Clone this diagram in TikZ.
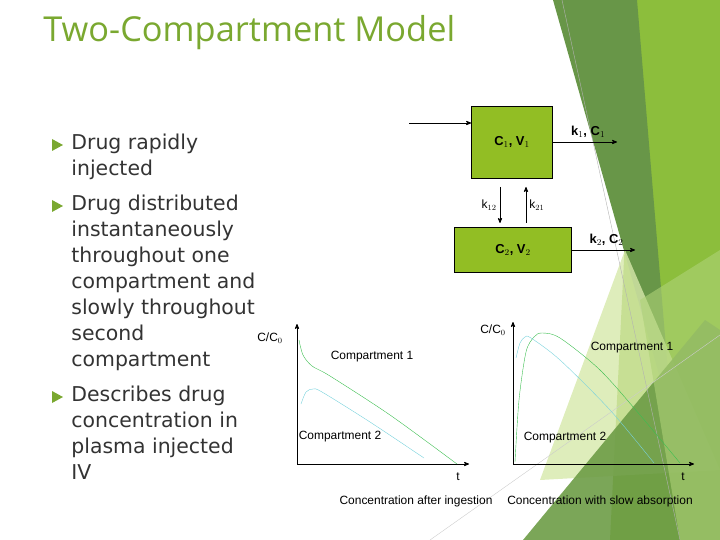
\documentclass[tikz,border=0pt]{standalone}
\usepackage{fontspec}
\setmainfont{DejaVu Sans}
\newfontfamily\titlefont{Open Sans}
\newfontfamily\labfont{Liberation Sans}
\usetikzlibrary{arrows,positioning}
\definecolor{titlegreen}{RGB}{122,168,48}
\definecolor{boxgreen}{RGB}{146,190,36}
\definecolor{darkleaf}{RGB}{104,150,72}
\definecolor{lightleaf}{RGB}{140,190,60}
\definecolor{paleleaf}{RGB}{214,232,170}
\definecolor{curvegreen}{RGB}{60,190,80}
\definecolor{curvecyan}{RGB}{120,210,220}
\tikzstyle{comp} = [rectangle, draw, fill=boxgreen, inner sep=0pt, font=\labfont\bfseries\fontsize{13}{15}\selectfont]
\tikzstyle{lab} = [font=\labfont\fontsize{12}{14}\selectfont, inner sep=1pt]
\tikzstyle{bul} = [anchor=north west, align=left, inner sep=0pt, font=\fontsize{20.5}{26}\selectfont, text=black!80]

\begin{document}
\begin{tikzpicture}[x=1bp,y=-1bp,>=stealth',thick]
  \useasboundingbox (0,0) rectangle (720,540);

  % background leaves
  \fill[lightleaf] (637,0) -- (720,0) -- (720,540) -- (610,540) -- cycle;
  \fill[darkleaf] (553,0) -- (637,0) -- (672,420) -- cycle;
  \fill[paleleaf,opacity=.8] (625,250) -- (540,480) -- (720,470) -- cycle;
  \fill[darkleaf!85!lightleaf,opacity=.9] (523,540) -- (705,320) -- (720,330) -- (720,540) -- cycle;
  \fill[lightleaf!70!white,opacity=.6] (640,300) -- (720,250) -- (720,540) -- (680,540) -- cycle;
  \draw[gray!60,thin] (562,0) -- (680,540);
  \draw[gray!40,thin] (430,540) -- (720,335);

  % title and bullets
  \node[anchor=west, text=titlegreen, font=\titlefont\fontsize{34.5}{36}\selectfont, inner sep=0pt] (title) at (43,33) {Two-Compartment Model};
  \node[bul] (b1) at (71,134) {Drug rapidly\\injected};
  \node[bul] (b2) at (71,195) {Drug distributed\\instantaneously\\throughout one\\compartment and\\slowly throughout\\second\\compartment};
  \node[bul] (b3) at (71,386) {Describes drug\\concentration in\\plasma injected\\IV};
  \foreach \y in {145,206,397}
    \fill[titlegreen] (52,\y-6) -- (63,\y) -- (52,\y+6) -- cycle;

  % compartment scheme
  \node[comp, minimum width=81bp, minimum height=72bp] (c1) at (512,142) {C$_1$, V$_1$};
  \node[comp, minimum width=117bp, minimum height=45bp] (c2) at (513,250) {C$_2$, V$_2$};
  \coordinate (in) at (409,123);
  \coordinate (out1) at (617,142);
  \coordinate (out2) at (635,250);
  \draw[->] (in) -- (in -| c1.west);
  \draw[->] (c1.east) -- (out1) node[lab, font=\labfont\bfseries\fontsize{13}{15}\selectfont, pos=.55, above=3bp] {k$_1$, C$_1$};
  \draw[->] (c2.east) -- (out2) node[lab, font=\labfont\bfseries\fontsize{13}{15}\selectfont, pos=.55, above=3bp] {k$_2$, C$_2$};
  \draw[->] (500,187) -- (500,223) node[lab, midway, left=2bp] {k$_{12}$};
  \draw[->] (526,223) -- (526,187) node[lab, midway, right=2bp] {k$_{21}$};

  % graph after ingestion
  \coordinate (o1) at (297,464);
  \draw[->] (o1) -- (297,324);
  \draw[->] (o1) -- (469,464);
  \node[lab] (cc1) at (270,338) {C/C$_0$};
  \node[lab] (t1) at (458,477) {t};
  \node[lab] (g1a) at (372,357) {Compartment 1};
  \node[lab] (g1b) at (340,437) {Compartment 2};
  \draw[curvegreen,thin] plot[smooth] coordinates {(299,340) (303,355) (312,366) (330,376) (390,415) (457,464)};
  \draw[curvecyan,thin] plot[smooth] coordinates {(301,404) (306,392) (313,389) (322,392) (370,422) (424,458)};
  \node[lab] (cap1) at (416,501) {Concentration after ingestion};

  % graph slow absorption
  \coordinate (o2) at (513,464);
  \draw[->] (o2) -- (513,322);
  \draw[->] (o2) -- (694,464);
  \node[lab] (cc2) at (493,330) {C/C$_0$};
  \node[lab] (t2) at (683,477) {t};
  \node[lab] (g2a) at (632,348) {Compartment 1};
  \node[lab] (g2b) at (565,438) {Compartment 2};
  \draw[curvegreen,thin] plot[smooth] coordinates {(515,462) (519,400) (526,352) (534,337) (542,333) (560,338) (600,370) (640,415) (680,463)};
  \draw[curvecyan,thin] plot[smooth] coordinates {(516,358) (520,343) (525,337) (531,338) (560,360) (610,410) (654,463)};
  \node[lab] (cap2) at (600,501) {Concentration with slow absorption};
\end{tikzpicture}
\end{document}
